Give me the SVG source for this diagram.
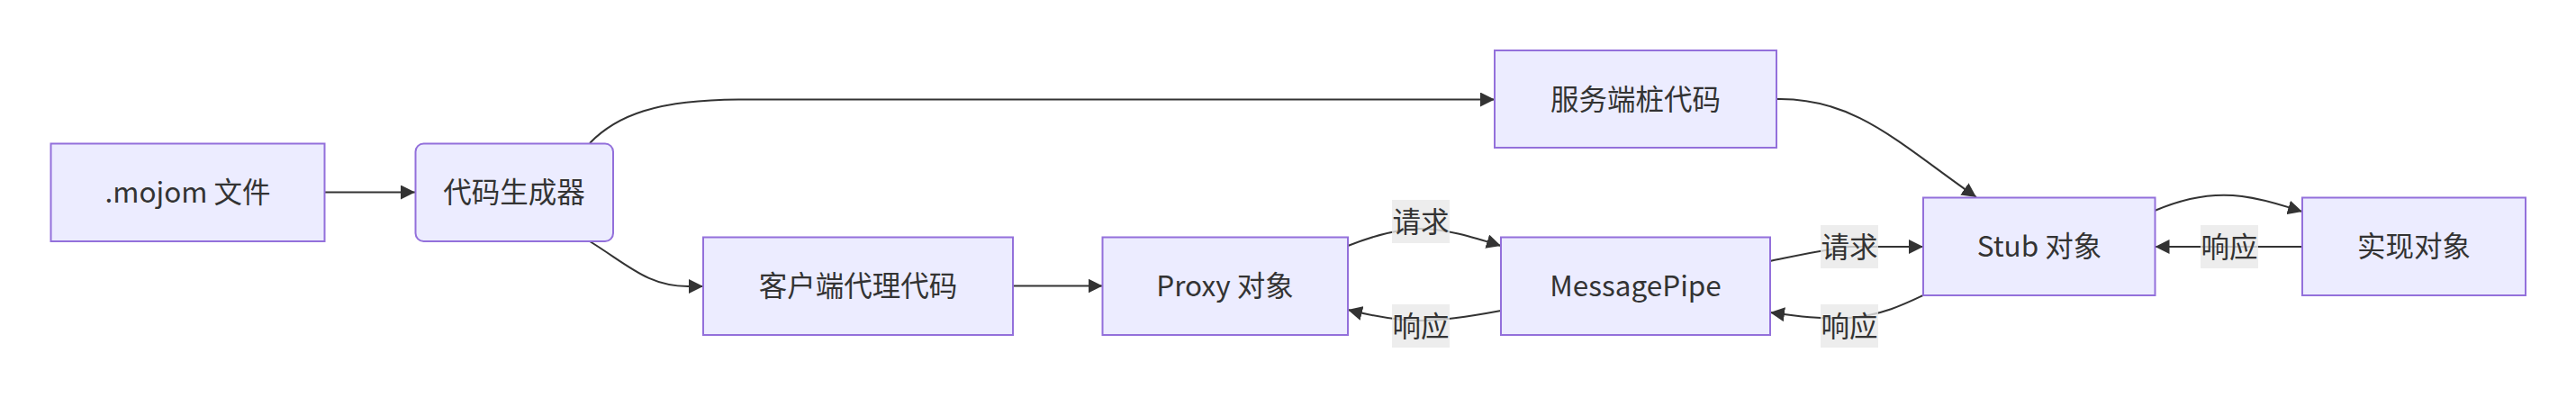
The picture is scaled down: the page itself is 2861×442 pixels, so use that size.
<svg xmlns="http://www.w3.org/2000/svg" width="2861" height="442" viewBox="0 0 2861 442">
<style>
.node rect{fill:#ECECFF;stroke:#9370DB;stroke-width:2}
text{font-family:"Noto Sans CJK SC","Noto Sans",sans-serif;font-size:31.5px;fill:#333;text-anchor:middle}
.edge{fill:none;stroke:#333;stroke-width:2}
.lbl rect{fill:#e8e8e8;fill-opacity:0.8}
</style>
<defs>
<marker id="arr" viewBox="0 0 10 10" refX="10" refY="5" markerUnits="userSpaceOnUse" markerWidth="16" markerHeight="16" orient="auto">
<path d="M0,0 L10,5 L0,10 z" fill="#333"/>
</marker>
</defs>
<rect width="2861" height="442" fill="#fff"/>
<g id="connectors">
<path class="edge" d="M360.5,213.5 L461,213.5" marker-end="url(#arr)"/>
<path class="edge" d="M655,159 C685,128 730,111 820,110.5 L1660,110.5" marker-end="url(#arr)"/>
<path class="edge" d="M655,268 C700,296 720,318 765,318 L781,318" marker-end="url(#arr)"/>
<path class="edge" d="M1125,317.5 L1224.5,317.5" marker-end="url(#arr)"/>
<path class="edge" d="M1497,273 C1530,260 1555,254 1578,254 C1605,254 1635,263 1667,273" marker-end="url(#arr)"/>
<path class="edge" d="M1667,345 C1635,351 1605,356 1578,356 C1555,356 1525,351 1497,344" marker-end="url(#arr)"/>
<path class="edge" d="M1966,290 C1995,284 2025,277 2054,274 L2136,274" marker-end="url(#arr)"/>
<path class="edge" d="M2136,328 C2115,338 2090,350 2054,353 C2025,355 1995,351 1966,347" marker-end="url(#arr)"/>
<path class="edge" d="M1973,110 C2060,108 2110,160 2195,219" marker-end="url(#arr)"/>
<path class="edge" d="M2393,234 C2430,218 2460,214 2490,218 C2520,222 2540,230 2557,235" marker-end="url(#arr)"/>
<path class="edge" d="M2557,274 L2393.5,274" marker-end="url(#arr)"/>
<g class="lbl"><rect x="1546" y="222" width="64" height="48"/><text x="1578" y="257.5">请求</text></g>
<g class="lbl"><rect x="1546" y="338" width="64" height="48"/><text x="1578" y="373.5">响应</text></g>
<g class="lbl"><rect x="2022" y="250" width="64" height="48"/><text x="2054" y="285.5">请求</text></g>
<g class="lbl"><rect x="2022" y="338" width="64" height="48"/><text x="2054" y="373.5">响应</text></g>
<g class="lbl"><rect x="2444" y="250" width="64" height="48"/><text x="2476" y="285.5">响应</text></g>
</g>
<g id="mojom" class="node"><rect x="56.5" y="159.5" width="304" height="108.5"/><text x="208.5" y="225">.mojom 文件</text></g>
<g id="gen" class="node"><rect x="461.5" y="159.5" width="219.5" height="108.5" rx="9" ry="9"/><text x="571" y="225">代码生成器</text></g>
<g id="client" class="node"><rect x="781" y="263.5" width="344" height="108.5"/><text x="953" y="329">客户端代理代码</text></g>
<g id="proxy" class="node"><rect x="1224.5" y="263.5" width="272.5" height="108.5"/><text x="1360.5" y="329">Proxy 对象</text></g>
<g id="server" class="node"><rect x="1660" y="56" width="313" height="108"/><text x="1816.5" y="121.5">服务端桩代码</text></g>
<g id="pipe" class="node"><rect x="1667" y="263.5" width="299" height="108.5"/><text x="1816.5" y="329">MessagePipe</text></g>
<g id="stub" class="node"><rect x="2136" y="219.5" width="257.5" height="108.5"/><text x="2265" y="285">Stub 对象</text></g>
<g id="impl" class="node"><rect x="2557" y="219.5" width="248" height="108.5"/><text x="2681" y="285">实现对象</text></g>
</svg>
